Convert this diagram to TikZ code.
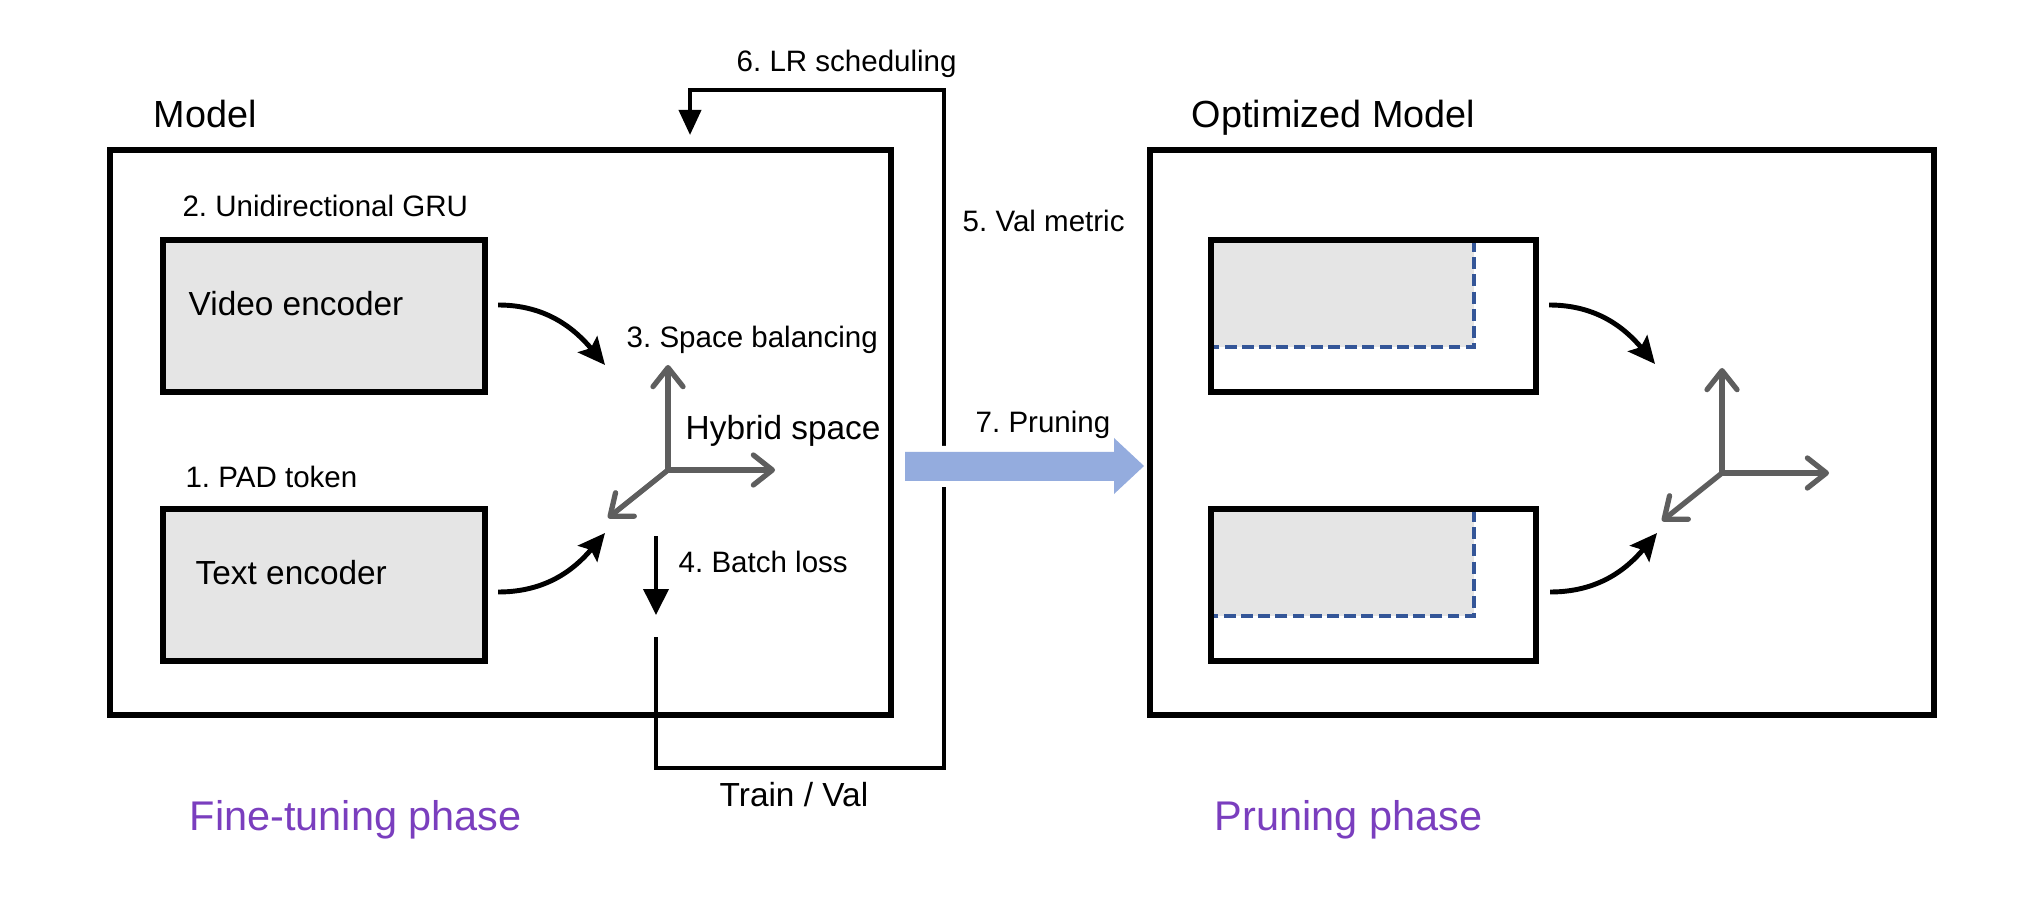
\documentclass[tikz,border=0pt]{standalone}
\usepackage{fontspec}
\setmainfont{Liberation Sans}
\usetikzlibrary{arrows.meta,positioning}
\frenchspacing

\definecolor{boxgray}{RGB}{229,229,229}
\definecolor{axisgray}{RGB}{94,94,94}
\definecolor{cutblue}{RGB}{52,86,152}
\definecolor{prunblue}{RGB}{148,172,222}
\definecolor{phasepurple}{RGB}{122,62,190}

\tikzset{
 box/.style={draw, line width=1.8pt, inner sep=0pt},
 lbl/.style={inner sep=0pt, anchor=base west, font=\fontsize{8.4}{10}\selectfont},
 mid/.style={inner sep=0pt, anchor=base west, font=\fontsize{9.5}{11}\selectfont},
 ttl/.style={inner sep=0pt, anchor=base west, font=\fontsize{10.75}{13}\selectfont},
 phase/.style={inner sep=0pt, anchor=base west, text=phasepurple, font=\fontsize{11.8}{14}\selectfont},
 flow/.style={line width=1.4pt, -{Stealth[length=0.27cm,width=0.25cm,inset=0.05cm]}},
 axis/.style={axisgray, line width=1.5pt, line cap=round, -{Straight Barb[length=0.19cm,width=0.3cm,round]}},
 fb/.style={line width=1.1pt},
 cut/.style={cutblue, line width=1.1pt, dash pattern=on 3.4pt off 1.5pt}
}

\begin{document}
\begin{tikzpicture}
 \useasboundingbox (0,0) rectangle (20.42,9.12);

 % fine-tuning side
 \node[box, minimum width=7.81cm, minimum height=5.65cm] (model) at (5.005,4.795) {};
 \node[box, fill=boxgray, minimum width=3.22cm, minimum height=1.52cm] (video) at (3.24,5.96) {};
 \node[box, fill=boxgray, minimum width=3.22cm, minimum height=1.52cm] (text) at (3.24,3.27) {};

 % labels
 \node (lmodel) [ttl] at (1.53,7.84) {Model};
 \node (lgru) [lbl, anchor=south west, above right=0.19cm and 0.22cm of video.north west] {2. Unidirectional GRU};
 \node (lpad) [lbl, anchor=south west, above right=0.17cm and 0.25cm of text.north west] {1. PAD token};
 \node (lvideo) [mid] at (1.88,5.96) {Video encoder};
 \node (ltext) [mid] at (1.95,3.28) {Text encoder};
 \node (lspace) [lbl] at (6.26,5.64) {3. Space balancing};
 \node (lhybrid) [mid] at (6.85,4.72) {Hybrid space};
 \node (lloss) [lbl] at (6.78,3.40) {4. Batch loss};
 \node (lval) [lbl] at (9.62,6.80) {5. Val metric};
 \node (llr) [lbl] at (7.36,8.40) {6. LR scheduling};
 \node (lprune) [lbl] at (9.75,4.79) {7. Pruning};
 \node (ltrain) [mid] at (7.19,1.06) {Train / Val};
 \node (lfine) [phase] at (1.89,0.82) {Fine-tuning phase};
 \node (lpph) [phase] at (12.14,0.82) {Pruning phase};
 \node (lopt) [ttl] at (11.91,7.84) {Optimized Model};

 % hybrid space axes
 \foreach \ox/\oy [count=\i] in {6.68/4.42, 17.22/4.39} {
  \coordinate (hyb\i) at (\ox,\oy);
  \draw[axis] (hyb\i) -- ++(0,1.05);
  \draw[axis] (hyb\i) -- ++(1.07,0);
  \draw[axis] (hyb\i) -- ++(-0.60,-0.48);
 }

 % encoders into the space
 \coordinate (vtip) at (6.05,5.47);
 \coordinate (ttip) at (6.05,3.79);
 \draw[flow] ([shift={(0.10,0.11)}]video.east) to[out=0,in=130] (vtip);
 \draw[flow] ([shift={(0.10,-0.07)}]text.east) to[out=0,in=230] (ttip);

 % training loop
 \coordinate (lossin) at (6.56,3.76);
 \coordinate (losstip) at (6.56,2.97);
 \coordinate (lossout) at (6.56,2.75);
 \coordinate (loopbr) at (9.44,1.44);
 \coordinate (looptr) at (9.44,8.22);
 \coordinate (lrtip) at (6.90,7.77);
 \draw[fb, -{Triangle[length=0.26cm,width=0.25cm]}] (lossin) -- (losstip);
 \draw[fb, -{Triangle[length=0.25cm,width=0.22cm]}] (lossout) |- (loopbr) -- (looptr) -| (lrtip);

 % pruning arrow
 \path[preaction={draw=white, line width=0.12cm, line join=round}, fill=prunblue]
  (9.05,4.60) -- (11.14,4.60) -- (11.14,4.74) -- (11.44,4.46) -- (11.14,4.18)
  -- (11.14,4.31) -- (9.05,4.31) -- cycle;

 % pruned side
 \node[box, minimum width=7.84cm, minimum height=5.65cm] (opt) at (15.42,4.795) {};
 \coordinate (keeptop) at (14.74,5.65);
 \coordinate (keepbot) at (14.74,2.96);
 \fill[boxgray] (12.11,6.72) rectangle (keeptop);
 \fill[boxgray] (12.11,4.02) rectangle (keepbot);
 \draw[cut] (keeptop |- 0,6.72) -- (keeptop) -- (keeptop -| 12.11,0);
 \draw[cut] (keepbot |- 0,4.02) -- (keepbot) -- (keepbot -| 12.11,0);
 \node[box, minimum width=3.25cm, minimum height=1.52cm] (ptop) at (13.735,5.96) {};
 \node[box, minimum width=3.25cm, minimum height=1.52cm] (pbot) at (13.735,3.27) {};
 \draw[flow] ([shift={(0.10,0.11)}]ptop.east) to[out=0,in=130] (16.55,5.48);
 \draw[flow] ([shift={(0.11,-0.07)}]pbot.east) to[out=0,in=230] (16.57,3.79);
\end{tikzpicture}
\end{document}
